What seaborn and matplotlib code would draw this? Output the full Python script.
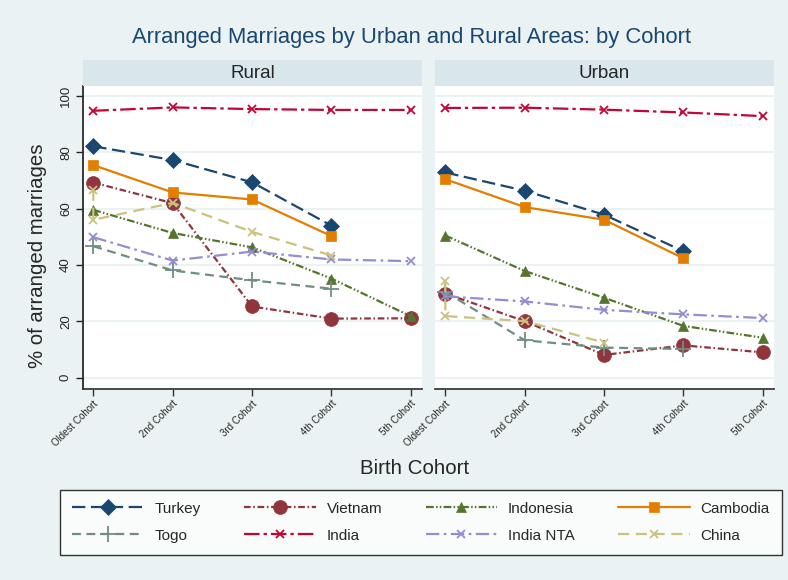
import matplotlib
matplotlib.use("Agg")
import matplotlib.pyplot as plt
import seaborn as sns
import pandas as pd

cohorts = ["Oldest Cohort", "2nd Cohort", "3rd Cohort", "4th Cohort", "5th Cohort"]
countries = ["Turkey", "Vietnam", "Indonesia", "Cambodia", "Togo", "India", "India NTA", "China"]

# cohort index per point (China has two values for the oldest cohort)
rural_x = {
    "Turkey": [1, 2, 3, 4],
    "Vietnam": [1, 2, 3, 4, 5],
    "Indonesia": [1, 2, 3, 4, 5],
    "Cambodia": [1, 2, 3, 4],
    "Togo": [1, 2, 3, 4],
    "India": [1, 2, 3, 4, 5],
    "India NTA": [1, 2, 3, 4, 5],
    "China": [1, 1, 2, 3, 4],
}
rural_turkey = [82.2, 77.3, 69.4, 54.0]
rural_vietnam = [69.3, 62.0, 25.3, 21.0, 21.1]
rural_indonesia = [59.6, 51.4, 46.3, 35.2, 21.8]
rural_cambodia = [75.5, 65.8, 63.3, 50.3]
rural_togo = [46.7, 38.1, 34.6, 31.6]
rural_india = [94.8, 96.0, 95.4, 95.1, 95.1]
rural_india_nta = [49.9, 41.6, 44.8, 42.0, 41.4]
rural_china = [66.8, 56.1, 62.1, 51.8, 43.4]

urban_x = {
    "Turkey": [1, 2, 3, 4],
    "Vietnam": [1, 2, 3, 4, 5],
    "Indonesia": [1, 2, 3, 4, 5],
    "Cambodia": [1, 2, 3, 4],
    "Togo": [1, 2, 3, 4],
    "India": [1, 2, 3, 4, 5],
    "India NTA": [1, 2, 3, 4, 5],
    "China": [1, 1, 2, 3],
}
urban_turkey = [72.9, 66.4, 57.9, 44.9]
urban_vietnam = [29.9, 20.1, 8.1, 11.5, 9.0]
urban_indonesia = [50.5, 37.9, 28.4, 18.4, 14.2]
urban_cambodia = [70.5, 60.6, 56.1, 42.4]
urban_togo = [30.5, 13.3, 10.7, 10.2]
urban_india = [95.8, 95.9, 95.2, 94.2, 92.9]
urban_india_nta = [28.9, 27.1, 24.1, 22.5, 21.2]
urban_china = [34.2, 21.9, 20.1, 12.5]

rural_vals = dict(zip(countries, [rural_turkey, rural_vietnam, rural_indonesia, rural_cambodia,
                                  rural_togo, rural_india, rural_india_nta, rural_china]))
urban_vals = dict(zip(countries, [urban_turkey, urban_vietnam, urban_indonesia, urban_cambodia,
                                  urban_togo, urban_india, urban_india_nta, urban_china]))

rows = []
for area, xs, vals in [("Rural", rural_x, rural_vals), ("Urban", urban_x, urban_vals)]:
    for c in countries:
        for i, (x, v) in enumerate(zip(xs[c], vals[c])):
            rows.append({"area": area, "country": c, "order": i, "cohort": x, "pct": v})
df = pd.DataFrame(rows)

# stata s2color look
colors = {"Turkey": "#1A476F", "Vietnam": "#90353B", "Indonesia": "#55752F", "Cambodia": "#E37E00",
          "Togo": "#6E8E84", "India": "#C10534", "India NTA": "#938DD2", "China": "#CAC27E"}
markers = {"Turkey": "D", "Vietnam": "o", "Indonesia": "^", "Cambodia": "s",
           "Togo": "+", "India": "x", "India NTA": "x", "China": "x"}
msizes = {"Turkey": 8, "Vietnam": 10, "Indonesia": 7.5, "Cambodia": 7.5,
          "Togo": 11, "India": 6, "India NTA": 6, "China": 6}
dashes = {"Turkey": (0, (6, 2.5)), "Vietnam": (0, (3, 1.2, 0.7, 1.2)),
          "Indonesia": (0, (3.5, 1, 0.7, 1, 0.7, 1)), "Cambodia": "-",
          "Togo": (0, (4, 2.5)), "India": (0, (7, 1.8, 1.5, 1.8)),
          "India NTA": (0, (6, 2, 1.2, 2)), "China": (0, (5, 3))}

bg = "#EAF2F3"
strip_c = "#D9E6EB"
sns.set_theme(style="white")
plt.rcParams["font.family"] = ["Liberation Sans", "DejaVu Sans"]

fig = plt.figure(figsize=(7.88, 5.80), dpi=100, facecolor=bg)
W, H = 788, 580


def box(x0, y0, x1, y1):
    return [x0 / W, 1 - y1 / H, (x1 - x0) / W, (y1 - y0) / H]


panels = [("Rural", 83, 422), ("Urban", 435, 774)]
axes = []
for area, x0, x1 in panels:
    ax = fig.add_axes(box(x0, 86, x1, 389))
    sub = df[df["area"] == area]
    for c in countries:
        d = sub[sub["country"] == c].sort_values("order")
        sns.lineplot(data=d, x="cohort", y="pct", ax=ax, estimator=None, sort=False,
                     color=colors[c], marker=markers[c], markersize=msizes[c],
                     linestyle=dashes[c], linewidth=1.6, markeredgewidth=1.3 if markers[c] in "x+" else 0.5,
                     markeredgecolor=colors[c], label=c, legend=False)
    ax.set_xlim(0.87, 5.14)
    ax.set_ylim(-4, 103.6)
    ax.set_facecolor("white")
    ax.set_yticks([0, 20, 40, 60, 80, 100])
    ax.yaxis.grid(True, color=bg, linewidth=1.4)
    ax.set_axisbelow(True)
    ax.set_xticks(range(1, 6))
    ax.set_xticklabels(cohorts, rotation=45, ha="right", va="top", rotation_mode="anchor", fontsize=7)
    ax.set_xlabel("")
    ax.set_ylabel("")
    for s in ["top", "right"]:
        ax.spines[s].set_visible(False)
    ax.spines["bottom"].set_color("#333333")
    ax.spines["left"].set_color("#222222")
    ax.tick_params(axis="x", length=5, width=1, color="#333333", direction="out", bottom=True, pad=2)
    if area == "Rural":
        ax.tick_params(axis="y", length=5, width=1, color="#222222", direction="out", left=True, pad=3)
        for t in ax.get_yticklabels():
            t.set_rotation(90)
            t.set_va("center")
            t.set_fontsize(9.5)
    else:
        ax.spines["left"].set_visible(False)
        ax.tick_params(axis="y", left=False, labelleft=False)
    sax = fig.add_axes(box(x0, 60, x1, 86))
    sax.set_facecolor(strip_c)
    sax.set_xticks([])
    sax.set_yticks([])
    for s in sax.spines.values():
        s.set_visible(False)
    sax.text(0.5, 0.48, area, ha="center", va="center", fontsize=13.5, transform=sax.transAxes)
    axes.append(ax)

fig.text(412 / W, 1 - 38 / H, "Arranged Marriages by Urban and Rural Areas: by Cohort",
         ha="center", va="center", fontsize=15.8, color="#1A476F")
fig.text(38 / W, 1 - 256 / H, "% of arranged marriages", rotation=90, ha="center", va="center", fontsize=14.7)
fig.text(415 / W, 1 - 468 / H, "Birth Cohort", ha="center", va="center", fontsize=14.8)

# legend fills row by row: reorder for matplotlib's column-wise filling
handles, labels = axes[0].get_legend_handles_labels()
hmap = dict(zip(labels, handles))
leg_order = ["Turkey", "Togo", "Vietnam", "India", "Indonesia", "India NTA", "Cambodia", "China"]
leg = fig.legend([hmap[k] for k in leg_order], leg_order, ncol=4, loc="lower left",
                 bbox_to_anchor=(60 / W, 1 - 555 / H, 722 / W, 68 / H), mode="expand",
                 frameon=True, fancybox=False, edgecolor="black", facecolor="white",
                 fontsize=11, handlelength=4.7, handletextpad=0.7, borderaxespad=0,
                 borderpad=0.8, labelspacing=0.85, columnspacing=1.5)
leg.get_frame().set_linewidth(1.0)

fig.savefig("out.png", dpi=100, facecolor=bg)
